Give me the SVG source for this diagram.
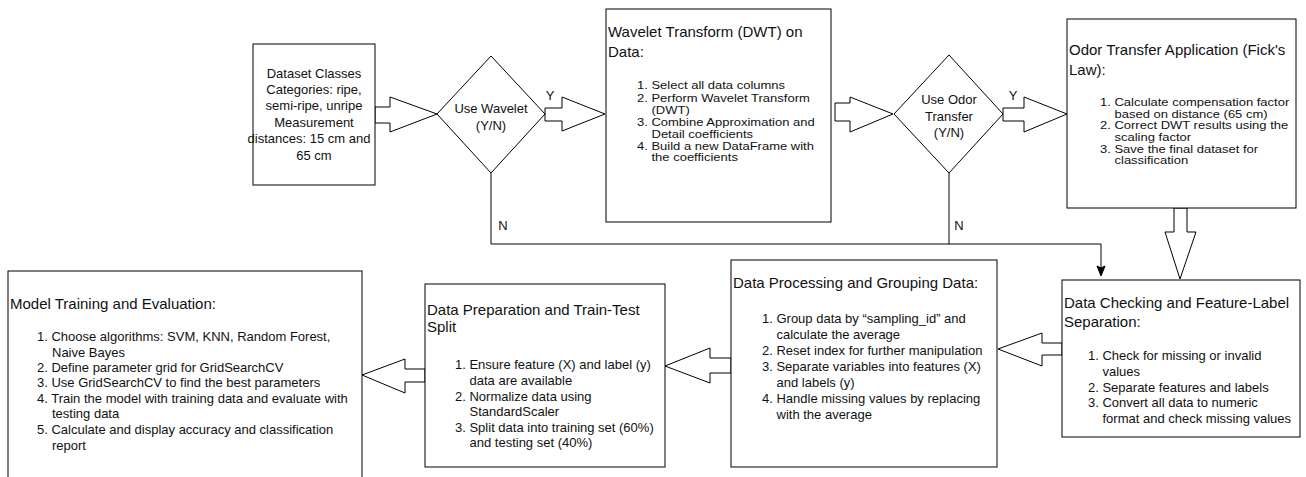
<svg xmlns="http://www.w3.org/2000/svg" width="1306" height="477" viewBox="0 0 1306 477">
<style>
.box{fill:#fff;stroke:#000;stroke-width:1}
.dia{fill:#fff;stroke:#000;stroke-width:1}
.blk{fill:#fff;stroke:#000;stroke-width:1;stroke-linejoin:miter}
.ln{fill:none;stroke:#000;stroke-width:1}
text{font-family:"Liberation Sans",Arial,sans-serif;fill:#111}
.t{font-size:15px}
.li{font-size:13px}
.c{font-size:13px;text-anchor:middle}
</style>
<rect width="1306" height="477" fill="#fff"/>

<g id="connectors">
  <polygon class="blk" points="375,107 390,107 390,97 437,114 390,132 390,123 375,123"/>
  <polygon class="blk" points="545,108 562,108 562,97 605,114 562,131 562,121 545,121"/>
  <polygon class="blk" points="835,103 850,103 850,97 893,114 850,132 850,121 835,121"/>
  <polygon class="blk" points="1003,108 1024,108 1024,97 1067,114 1024,132 1024,121 1003,121"/>
  <polygon class="blk" points="1174,208 1187,208 1187,232 1196,232 1180,279 1165,232 1174,232"/>
  <polygon class="blk" points="1062,343 1042,343 1042,333 998,349 1042,366 1042,355 1062,355"/>
  <polygon class="blk" points="731,358 710,358 710,348 665,366 710,383 710,373 731,373"/>
  <polygon class="blk" points="425,369 405,369 405,359 362,375 405,393 405,382 425,382"/>
  <polyline class="ln" points="491,173 491,244 1101,244 1101,268"/>
  <line class="ln" x1="949" y1="173" x2="949" y2="244"/>
  <path d="M1097,266 L1101,276 L1105,266 L1101,268 Z" fill="#000" stroke="#000" stroke-width="1"/>
  <text class="c" x="550" y="100">Y</text>
  <text class="c" x="1013" y="100">Y</text>
  <text class="c" x="503" y="230">N</text>
  <text class="c" x="959" y="230">N</text>
</g>

<g id="dataset">
  <rect class="box" x="253" y="44" width="122" height="141"/>
  <text class="c" x="314" y="78">Dataset Classes</text>
  <text class="c" x="314" y="94">Categories: ripe,</text>
  <text class="c" x="314" y="110">semi-ripe, unripe</text>
  <text class="c" x="314" y="127">Measurement</text>
  <text class="c" x="309" y="143">distances: 15 cm and</text>
  <text class="c" x="314" y="160">65 cm</text>
</g>

<g id="use-wavelet">
  <polygon class="dia" points="437,114 491,56 545,114 491,173"/>
  <text class="c" x="491" y="113">Use Wavelet</text>
  <text class="c" x="491" y="130">(Y/N)</text>
</g>

<g id="dwt">
  <rect class="box" x="606" y="9" width="225" height="213"/>
  <text class="t" x="608" y="37">Wavelet Transform (DWT) on</text>
  <text class="t" x="608" y="57">Data:</text>
  <g transform="scale(1,0.8)">
    <text class="li" x="637" y="111.25">1. Select all data columns</text>
    <text class="li" x="637" y="127.5">2. Perform Wavelet Transform</text>
    <text class="li" x="651.5" y="141.9">(DWT)</text>
    <text class="li" x="637" y="156.9">3. Combine Approximation and</text>
    <text class="li" x="651.5" y="171.9">Detail coefficients</text>
    <text class="li" x="637" y="186.9">4. Build a new DataFrame with</text>
    <text class="li" x="651.5" y="201.25">the coefficients</text>
  </g>
</g>

<g id="use-odor">
  <polygon class="dia" points="894,114 949,55 1003,114 949,173"/>
  <text class="c" x="949" y="104">Use Odor</text>
  <text class="c" x="949" y="121">Transfer</text>
  <text class="c" x="949" y="137">(Y/N)</text>
</g>

<g id="odor">
  <rect class="box" x="1067" y="19" width="229" height="189"/>
  <text class="t" x="1069" y="55">Odor Transfer Application (Fick's</text>
  <text class="t" x="1069" y="75">Law):</text>
  <g transform="scale(1,0.8)">
    <text class="li" x="1100" y="132.5">1. Calculate compensation factor</text>
    <text class="li" x="1114.5" y="147.1">based on distance (65 cm)</text>
    <text class="li" x="1100" y="161.6">2. Correct DWT results using the</text>
    <text class="li" x="1114.5" y="176.25">scaling factor</text>
    <text class="li" x="1100" y="190.9">3. Save the final dataset for</text>
    <text class="li" x="1114.5" y="205.4">classification</text>
  </g>
</g>

<g id="checking">
  <rect class="box" x="1062" y="280" width="238" height="157"/>
  <text class="t" x="1064" y="308">Data Checking and Feature-Label</text>
  <text class="t" x="1064" y="327">Separation:</text>
  <text class="li" x="1088" y="360">1. Check for missing or invalid</text>
  <text class="li" x="1102.5" y="376">values</text>
  <text class="li" x="1088" y="392">2. Separate features and labels</text>
  <text class="li" x="1088" y="407">3. Convert all data to numeric</text>
  <text class="li" x="1102.5" y="423">format and check missing values</text>
</g>

<g id="processing">
  <rect class="box" x="731" y="260" width="266" height="207"/>
  <text class="t" x="733" y="288">Data Processing and Grouping Data:</text>
  <text class="li" x="762" y="323">1. Group data by “sampling_id” and</text>
  <text class="li" x="776.5" y="339">calculate the average</text>
  <text class="li" x="762" y="355">2. Reset index for further manipulation</text>
  <text class="li" x="762" y="371">3. Separate variables into features (X)</text>
  <text class="li" x="776.5" y="387">and labels (y)</text>
  <text class="li" x="762" y="403">4. Handle missing values by replacing</text>
  <text class="li" x="776.5" y="419">with the average</text>
</g>

<g id="preparation">
  <rect class="box" x="425" y="284" width="240" height="183"/>
  <text class="t" x="427" y="315">Data Preparation and Train-Test</text>
  <text class="t" x="427" y="332">Split</text>
  <text class="li" x="455" y="369">1. Ensure feature (X) and label (y)</text>
  <text class="li" x="469.5" y="385">data are available</text>
  <text class="li" x="455" y="401">2. Normalize data using</text>
  <text class="li" x="469.5" y="416">StandardScaler</text>
  <text class="li" x="455" y="432">3. Split data into training set (60%)</text>
  <text class="li" x="469.5" y="447">and testing set (40%)</text>
</g>

<g id="model">
  <rect class="box" x="8" y="271" width="354" height="230"/>
  <text class="t" x="10" y="309">Model Training and Evaluation:</text>
  <text class="li" x="37" y="341">1. Choose algorithms: SVM, KNN, Random Forest,</text>
  <text class="li" x="52" y="357">Naive Bayes</text>
  <text class="li" x="37" y="372">2. Define parameter grid for GridSearchCV</text>
  <text class="li" x="37" y="387">3. Use GridSearchCV to find the best parameters</text>
  <text class="li" x="37" y="403">4. Train the model with training data and evaluate with</text>
  <text class="li" x="52" y="418">testing data</text>
  <text class="li" x="37" y="434">5. Calculate and display accuracy and classification</text>
  <text class="li" x="52" y="450">report</text>
</g>
</svg>
